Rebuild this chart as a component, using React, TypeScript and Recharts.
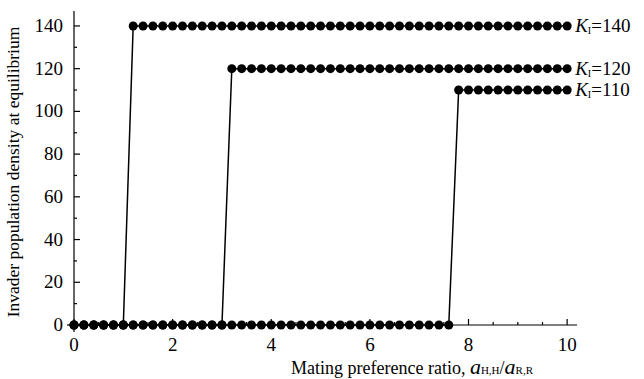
import { LineChart, Line, XAxis, YAxis } from "recharts"

const ratio = [
  0, 0.2, 0.4, 0.6, 0.8, 1, 1.2, 1.4, 1.6, 1.8, 2, 2.2, 2.4, 2.6, 2.8, 3, 3.2, 3.4, 3.6, 3.8, 4, 4.2, 4.4, 4.6, 4.8,
  5, 5.2, 5.4, 5.6, 5.8, 6, 6.2, 6.4, 6.6, 6.8, 7, 7.2, 7.4, 7.6, 7.8, 8, 8.2, 8.4, 8.6, 8.8, 9, 9.2, 9.4, 9.6, 9.8, 10,
]

const density140 = [
  0, 0, 0, 0, 0, 0, 140, 140, 140, 140, 140, 140, 140, 140, 140, 140, 140, 140, 140, 140, 140, 140, 140, 140, 140,
  140, 140, 140, 140, 140, 140, 140, 140, 140, 140, 140, 140, 140, 140, 140, 140, 140, 140, 140, 140, 140, 140, 140,
  140, 140, 140,
]

const density120 = [
  0, 0, 0, 0, 0, 0, 0, 0, 0, 0, 0, 0, 0, 0, 0, 0, 120, 120, 120, 120, 120, 120, 120, 120, 120, 120, 120, 120, 120,
  120, 120, 120, 120, 120, 120, 120, 120, 120, 120, 120, 120, 120, 120, 120, 120, 120, 120, 120, 120, 120, 120,
]

const density110 = [
  0, 0, 0, 0, 0, 0, 0, 0, 0, 0, 0, 0, 0, 0, 0, 0, 0, 0, 0, 0, 0, 0, 0, 0, 0, 0, 0, 0, 0, 0, 0, 0, 0, 0, 0, 0, 0, 0,
  0, 110, 110, 110, 110, 110, 110, 110, 110, 110, 110, 110, 110,
]

const seriesKeys = ["k140", "k120", "k110"]
const seriesNames = ["140", "120", "110"]

const xTicks = [0, 0.5, 1, 1.5, 2, 2.5, 3, 3.5, 4, 4.5, 5, 5.5, 6, 6.5, 7, 7.5, 8, 8.5, 9, 9.5, 10]
const yTicks = [0, 10, 20, 30, 40, 50, 60, 70, 80, 90, 100, 110, 120, 130, 140]

const data = ratio.map((x, i) => ({
  x,
  k140: density140[i],
  k120: density120[i],
  k110: density110[i],
}))

const FONT = "'Liberation Serif', 'Times New Roman', serif"

function XTick({ x, y, payload }: any) {
  const v = payload.value
  const major = v % 2 === 0
  return (
    <g>
      <line x1={x} x2={x} y1={y} y2={y - (major ? 6 : 3)} stroke="#000" strokeWidth={1.2} />
      {v === 0 && <line x1={x} x2={x} y1={y} y2={y + 7} stroke="#000" strokeWidth={1.2} />}
      {major && (
        <text x={x} y={y + 26} textAnchor="middle" style={{ fontFamily: FONT, fontSize: 19 }} fill="#000">
          {v}
        </text>
      )}
    </g>
  )
}

function YTick({ x, y, payload }: any) {
  const v = payload.value
  const major = v % 20 === 0
  return (
    <g>
      <line x1={x} x2={x + (major ? 6 : 3)} y1={y} y2={y} stroke="#000" strokeWidth={1.2} />
      {v === 0 && <line x1={x} x2={x - 7} y1={y} y2={y} stroke="#000" strokeWidth={1.2} />}
      {major && (
        <text x={x - 11} y={y + 6} textAnchor="end" style={{ fontFamily: FONT, fontSize: 19 }} fill="#000">
          {v}
        </text>
      )}
    </g>
  )
}

function endLabel(name: string) {
  return (props: any) => {
    const { x, y, index } = props
    if (index !== ratio.length - 1) return null
    return (
      <text x={x + 8} y={y + 6} style={{ fontFamily: FONT, fontSize: 19 }} fill="#000">
        <tspan fontStyle="italic">K</tspan>
        <tspan fontSize={10} dy={2}>I</tspan>
        <tspan dy={-2}>={name}</tspan>
      </text>
    )
  }
}

export default function App() {
  return (
    <div style={{ position: "absolute", left: 0, top: 0, background: "#fff", fontFamily: FONT }}>
      <LineChart width={644} height={379} data={data} margin={{ top: 11, right: 67, bottom: 24, left: 0 }}>
        <XAxis
          dataKey="x"
          type="number"
          domain={[0, 10.2]}
          ticks={xTicks}
          interval={0}
          tickLine={false}
          tickSize={0}
          tickMargin={0}
          tick={<XTick />}
          stroke="#000"
          strokeWidth={1.2}
          height={30}
          label={{
            content: () => (
              <text x={412} y={374} textAnchor="middle" style={{ fontFamily: FONT, fontSize: 18 }} fill="#000">
                Mating preference ratio,{" "}
                <tspan fontStyle="italic" fontSize={22}>a</tspan>
                <tspan fontSize={11}>H,H</tspan>
                <tspan>/</tspan>
                <tspan fontStyle="italic" fontSize={22}>a</tspan>
                <tspan fontSize={11}>R,R</tspan>
              </text>
            ),
          }}
        />
        <YAxis
          type="number"
          domain={[0, 147]}
          ticks={yTicks}
          interval={0}
          tickLine={false}
          tickSize={0}
          tickMargin={0}
          tick={<YTick />}
          stroke="#000"
          strokeWidth={1.2}
          width={74}
          label={{
            content: () => (
              <text
                transform="translate(19,172) rotate(-90)"
                textAnchor="middle"
                style={{ fontFamily: FONT, fontSize: 17.5 }}
                fill="#000"
              >
                Invader population density at equilibrium
              </text>
            ),
          }}
        />
        {seriesKeys.map((key, i) => (
          <Line
            key={key}
            dataKey={key}
            type="linear"
            stroke="#000"
            strokeWidth={1.5}
            dot={{ r: 4.5, fill: "#000", stroke: "#000", strokeWidth: 0 }}
            label={endLabel(seriesNames[i])}
            isAnimationActive={false}
          />
        ))}
      </LineChart>
    </div>
  )
}
